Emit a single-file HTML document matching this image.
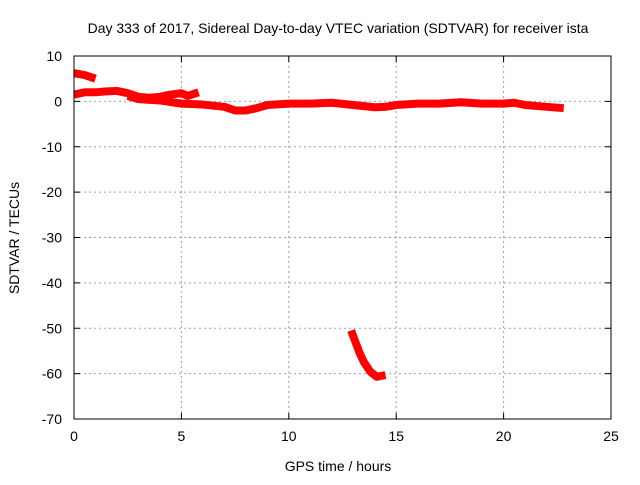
<!DOCTYPE html>
<html><head><meta charset="utf-8"><style>
body{margin:0;background:#fff;}
svg text{font-family:"Liberation Sans",sans-serif;font-size:14px;fill:#000;}
</style></head><body>
<svg width="640" height="480">
<g id="grid"></g>
<g id="series"></g>
<rect x="74" y="56" width="537" height="363" fill="none" stroke="#000" stroke-width="1"/>
<g id="ticks"></g>
<text x="338" y="33" text-anchor="middle">Day 333 of 2017, Sidereal Day-to-day VTEC variation (SDTVAR) for receiver ista</text>
<text x="338" y="471" text-anchor="middle">GPS time / hours</text>
<text x="19" y="238" text-anchor="middle" transform="rotate(-90 19 238)">SDTVAR / TECUs</text>
</svg>
<script>
const xTicks=[0,5,10,15,20,25];
const yTicks=[10,0,-10,-20,-30,-40,-50,-60,-70];
const segA=[[0,6.2],[0.5,5.8],[1,5.0]];
const segB=[[0,1.5],[0.5,2],[1,2],[1.5,2.2],[2,2.3],[2.5,1.8],[3,1.0],[3.5,0.8],[4,1.0],[4.5,1.5],[5,1.8],[5.3,1.2],[5.8,2.0]];
const segC=[[2.5,1.2],[3,0.5],[4,0.2],[5,-0.5],[6,-0.7],[7,-1.2],[7.5,-2],[8,-2],[8.5,-1.5],[9,-0.8],[10,-0.5],[11,-0.5],[12,-0.3],[13,-0.8],[14,-1.3],[14.5,-1.2],[15,-0.8],[16,-0.5],[17,-0.5],[18,-0.2],[19,-0.5],[20,-0.5],[20.5,-0.3],[21,-0.8],[22,-1.2],[22.8,-1.5]];
const segD=[[12.9,-50.5],[13.1,-53],[13.3,-55.5],[13.5,-57.5],[13.8,-59.6],[14.1,-60.7],[14.5,-60.3]];
const X0=74,X1=611,Y0=56,Y1=419;
const sx=v=>X0+(v-0)/25*(X1-X0);
const sy=v=>Y0+(10-v)/80*(Y1-Y0);
const NS='http://www.w3.org/2000/svg';
function mk(t,a,p){const e=document.createElementNS(NS,t);for(const k in a)e.setAttribute(k,a[k]);p.appendChild(e);return e;}
const grid=document.getElementById('grid'),ticks=document.getElementById('ticks'),ser=document.getElementById('series');
xTicks.forEach(v=>{const x=sx(v);
 if(v>0&&v<25){const g=mk('line',{x1:x,x2:x,y1:Y0,y2:Y1,stroke:'#a0a0a0','stroke-dasharray':'2,3'},grid);
 
 }
 const t1=mk('line',{x1:x,x2:x,y1:Y1,y2:Y1-6,stroke:'#000'},ticks);
 
 
 const t2=mk('line',{x1:x,x2:x,y1:Y0,y2:Y0+6,stroke:'#000'},ticks);
 
 
 const l=mk('text',{x:x,y:Y1+22,'text-anchor':'middle'},ticks);l.textContent=v;
 
 
});
yTicks.forEach(v=>{const y=sy(v);
 if(v<10&&v>-70){const g=mk('line',{x1:X0,x2:X1,y1:y,y2:y,stroke:'#a0a0a0','stroke-dasharray':'2,3'},grid);
 
 }
 const t1=mk('line',{x1:X0,x2:X0+6,y1:y,y2:y,stroke:'#000'},ticks);
 
 
 const t2=mk('line',{x1:X1,x2:X1-6,y1:y,y2:y,stroke:'#000'},ticks);
 
 
 const l=mk('text',{x:X0-12,y:y+5,'text-anchor':'end'},ticks);l.textContent=v;
 
 
});
[segA,segB,segC,segD].forEach(s=>{
 const p=mk('polyline',{points:s.map(d=>sx(d[0])+','+sy(d[1])).join(' '),fill:'none',stroke:'#ff0000','stroke-width':8,'stroke-linejoin':'round'},ser);
 
 
});
</script>
</body></html>
